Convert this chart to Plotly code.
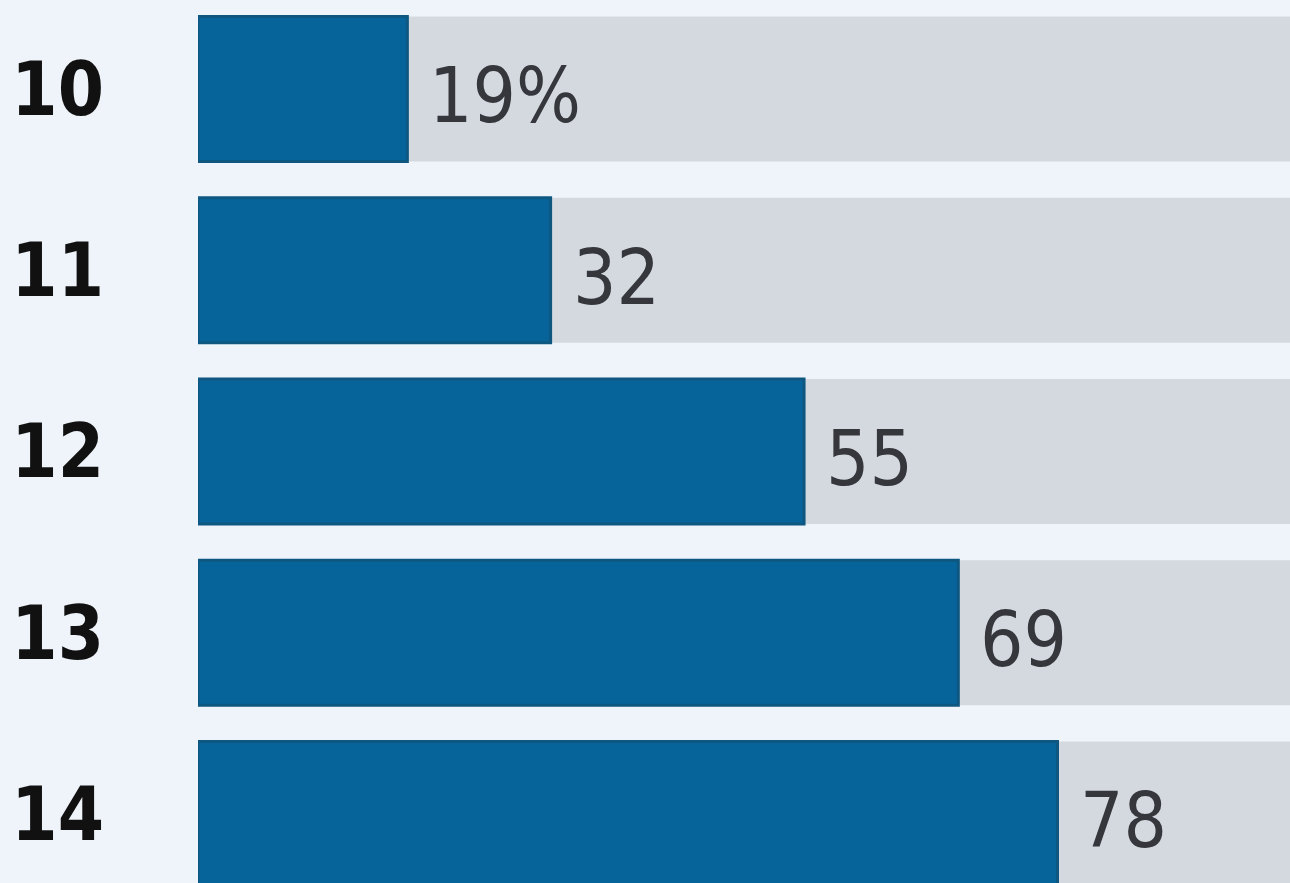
import plotly.graph_objects as go

categories = ["10", "11", "12", "13", "14"]
values = [19, 32, 55, 69, 78]
value_labels = ["19%", "32", "55", "69", "78"]
track = [100, 100, 100, 100, 100]

fig = go.Figure()
fig.add_trace(go.Bar(
    y=categories, x=track, orientation="h",
    marker=dict(color="#d4d9e0", line=dict(width=0)),
    width=0.8, hoverinfo="skip", showlegend=False,
))
fig.add_trace(go.Bar(
    y=categories, x=values, orientation="h",
    marker=dict(color="#06649b", line=dict(color="#0e5780", width=3)),
    width=0.8, showlegend=False,
))
for i, (v, t) in enumerate(zip(values, value_labels)):
    fig.add_annotation(
        x=v, y=i, xref="x", yref="y", text=t, showarrow=False,
        xanchor="left", yanchor="middle", xshift=20, yshift=-7,
        font=dict(family="DejaVu Sans Condensed, DejaVu Sans", size=76, color="#35373c"),
    )
fig.update_layout(
    width=1290, height=883,
    margin=dict(l=198, r=0, t=0, b=0),
    paper_bgcolor="#eff4fa", plot_bgcolor="#eff4fa",
    barmode="overlay",
    xaxis=dict(range=[0, 99.1], visible=False, showgrid=False, zeroline=False),
    yaxis=dict(
        type="category", categoryorder="array", categoryarray=categories,
        range=[4.381, -0.491], showgrid=False, zeroline=False, showline=False,
        ticks="", ticklabelstandoff=93,
        tickfont=dict(family="DejaVu Sans Condensed, DejaVu Sans", size=74, color="#111111", weight="bold"),
    ),
)
fig.write_html(
    "out.html",
    config={"displayModeBar": False},
    post_script="document.body.style.margin='0';document.body.style.background='#eff4fa';",
)
